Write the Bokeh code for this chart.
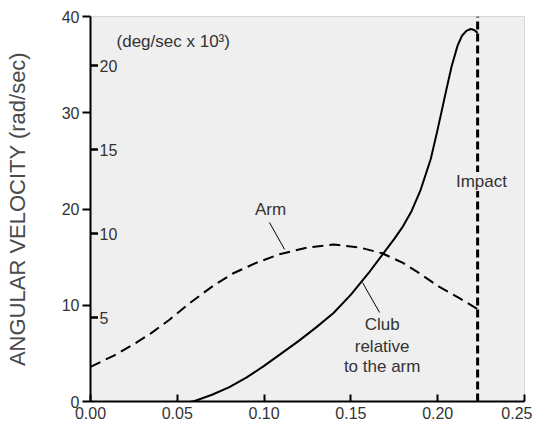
import numpy as np
from bokeh.plotting import figure
from bokeh.models import Range1d, FixedTicker, NumeralTickFormatter, Label
from bokeh.core.properties import value
from bokeh.embed import file_html
from bokeh.resources import INLINE

# ---- data ----
time_arm = [0.0, 0.0138, 0.0253, 0.035, 0.0455, 0.057, 0.0705, 0.082, 0.0954,
            0.1089, 0.125, 0.14, 0.155, 0.168, 0.18, 0.188, 0.201, 0.212, 0.223]
arm_vel = [3.6, 4.8, 6.0, 7.1, 8.5, 10.2, 12.0, 13.3, 14.4,
           15.3, 16.0, 16.3, 16.0, 15.4, 14.4, 13.5, 11.9, 10.8, 9.6]

time_club = [0.0, 0.01, 0.02, 0.03, 0.04, 0.05, 0.06, 0.07, 0.08, 0.09, 0.10,
             0.11, 0.12, 0.13, 0.14, 0.15, 0.16, 0.17, 0.175, 0.18, 0.185, 0.19,
             0.196, 0.20, 0.205, 0.208, 0.2115, 0.214, 0.2165, 0.219, 0.221, 0.223]
club_vel = [0.0, -0.3, -0.45, -0.5, -0.45, -0.3, 0.05, 0.7, 1.5, 2.5, 3.7,
            5.0, 6.3, 7.7, 9.2, 11.1, 13.3, 15.7, 16.9, 18.2, 19.8, 21.9,
            25.2, 28.3, 32.4, 34.8, 37.0, 38.0, 38.5, 38.7, 38.6, 38.3]

impact_time = 0.223
x_ticks = [0.0, 0.05, 0.10, 0.15, 0.20, 0.25]
y_ticks = [0, 10, 20, 30, 40]
deg_ticks = [5, 10, 15, 20]                     # secondary scale labels
deg_tick_rad = [d * 100 * np.pi / 180 for d in deg_ticks]
deg_tick_labels = [str(d) for d in deg_ticks]

# annotation anchors (data units)
arm_label_pos = (0.1037, 19.95)
arm_leader_x = [0.1031, 0.1118]
arm_leader_y = [18.6, 15.8]
club_label_x = [0.168, 0.168, 0.168]
club_label_y = [8.0, 5.75, 3.6]
club_label_text = ["Club", "relative", "to the arm"]
club_leader_x = [0.1567, 0.1665]
club_leader_y = [12.36, 9.25]
impact_label_pos = (0.2252, 22.86)
unit_label_pos = (0.015, 37.4)

FONT = "Liberation Sans"
TXT = "#333333"
BG = "#efefef"

p = figure(width=532, height=425, output_backend="svg", toolbar_location=None,
           x_range=Range1d(0, 0.25), y_range=Range1d(0, 40),
           min_border_left=90, min_border_right=8, min_border_top=16,
           min_border_bottom=24)
p.background_fill_color = BG
p.border_fill_color = "white"
p.outline_line_color = "#d6d6d6"
p.grid.visible = False

# axes
xa = p.xaxis[0]
xa.ticker = FixedTicker(ticks=x_ticks)
xa.formatter = NumeralTickFormatter(format="0.00")
xa.major_tick_in = 7
xa.major_tick_out = 0
xa.minor_tick_line_color = None
xa.axis_line_width = 2
xa.major_tick_line_width = 2
xa.major_label_standoff = 5

ya = p.yaxis[0]
ya.ticker = FixedTicker(ticks=y_ticks)
ya.major_tick_in = 0
ya.major_tick_out = 8
ya.minor_tick_line_color = None
ya.axis_line_width = 2
ya.major_tick_line_width = 2
ya.major_label_standoff = 3
ya.axis_label = "ANGULAR VELOCITY (rad/sec)"
ya.axis_label_standoff = 29
ya.axis_label_text_font = FONT
ya.axis_label_text_font_size = "22px"
ya.axis_label_text_font_style = "normal"
ya.axis_label_text_color = "#4a4a4a"

for ax in (xa, ya):
    ax.major_label_text_font = FONT
    ax.major_label_text_font_size = "16px"
    ax.major_label_text_color = TXT

# secondary (deg/sec) inner ticks
p.scatter(x=[0] * len(deg_tick_rad), y=deg_tick_rad, marker="dash", size=15,
          line_color="black", line_width=2.5)
p.text(x=[0] * len(deg_tick_rad), y=deg_tick_rad, text=deg_tick_labels,
       x_offset=9, text_baseline="middle", text_align="left",
       text_font=value(FONT), text_font_size=value("16px"), text_color=TXT)
p.add_layout(Label(x=unit_label_pos[0], y=unit_label_pos[1],
                   text="(deg/sec x 10\u00b3)", text_font=FONT,
                   text_font_size="17px", text_color=TXT,
                   text_baseline="middle"))

# curves
p.line(time_arm, arm_vel, line_color="black", line_width=2, line_dash="11 6")
p.line(time_club, club_vel, line_color="black", line_width=2)

# impact line
p.segment(x0=[impact_time], y0=[0], x1=[impact_time], y1=[40],
          line_color="black", line_width=3, line_dash="8 4")
p.add_layout(Label(x=impact_label_pos[0], y=impact_label_pos[1], text="Impact",
                   text_font=FONT, text_font_size="17px", text_color=TXT,
                   text_align="center", text_baseline="middle",
                   background_fill_color=BG))

# labels with leader lines
p.line(arm_leader_x, arm_leader_y, line_color="black", line_width=1)
p.add_layout(Label(x=arm_label_pos[0], y=arm_label_pos[1], text="Arm",
                   text_font=FONT, text_font_size="17px", text_color=TXT,
                   text_align="center", text_baseline="middle"))
p.line(club_leader_x, club_leader_y, line_color="black", line_width=1)
p.text(x=club_label_x, y=club_label_y, text=club_label_text,
       text_align="center", text_baseline="middle",
       text_font=value(FONT), text_font_size=value("17px"), text_color=TXT)

open("out.html", "w").write(file_html(p, INLINE))
